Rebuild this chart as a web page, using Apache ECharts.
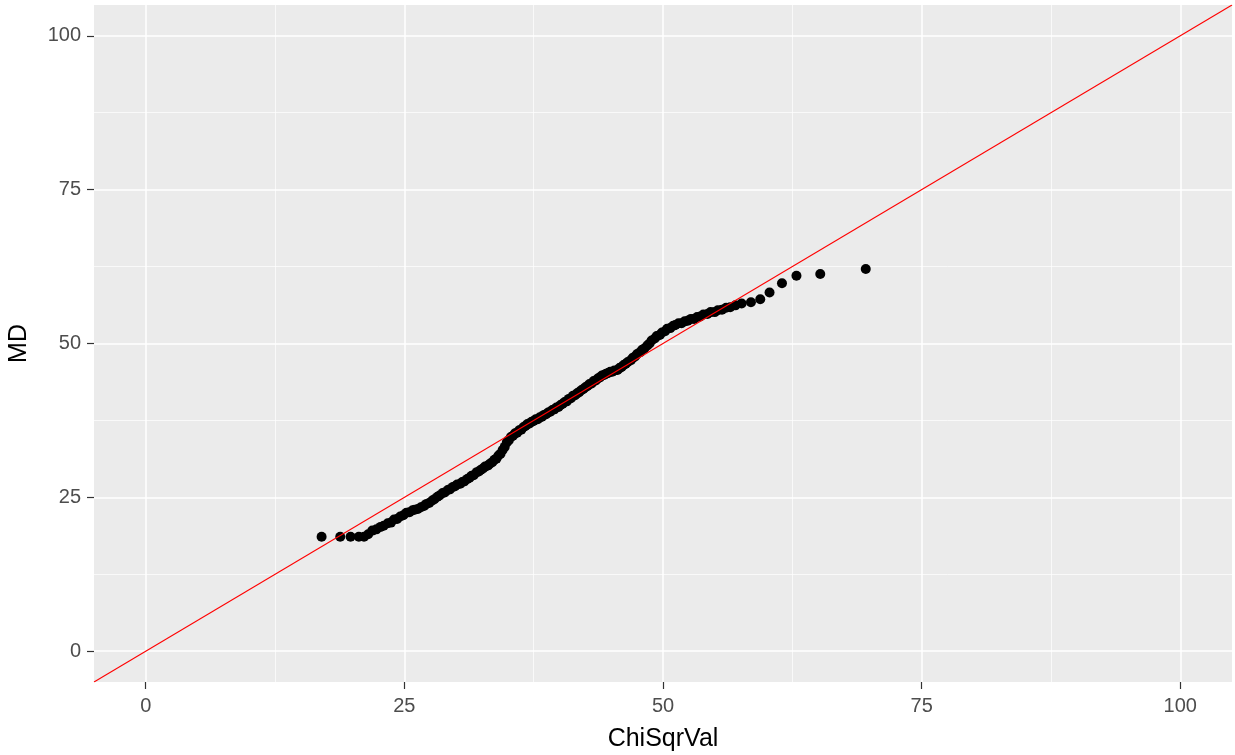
<!DOCTYPE html>
<html>
<head>
<meta charset="utf-8">
<title>ChiSqrVal vs MD</title>
<script src="https://cdn.jsdelivr.net/npm/echarts@6/dist/echarts.min.js"></script>
<style>
  html, body { margin: 0; padding: 0; background: #ffffff; }
  #chart { width: 1235px; height: 755px; }
</style>
</head>
<body>
<div id="chart"></div>
<script>
// Theoretical chi-square quantiles (x) and sorted Mahalanobis distances (y)
const chiSqVal = [
  17.0, 18.8, 19.8, 20.6, 21.1, 21.5, 21.9, 22.3, 22.7, 23.0, 23.4, 23.7, 24.0, 24.3, 24.6, 24.9,
  25.2, 25.5, 25.8, 26.0, 26.3, 26.6, 26.9, 27.1, 27.4, 27.7, 27.9, 28.2, 28.4, 28.7, 28.9, 29.2,
  29.4, 29.7, 29.9, 30.1, 30.4, 30.6, 30.8, 31.1, 31.3, 31.5, 31.7, 32.0, 32.2, 32.4, 32.6, 32.8,
  33.1, 33.3, 33.5, 33.7, 33.9, 34.1, 34.3, 34.5, 34.7, 34.9, 35.1, 35.3, 35.5, 35.7, 35.9, 36.1,
  36.3, 36.5, 36.7, 36.9, 37.1, 37.3, 37.5, 37.7, 37.9, 38.1, 38.3, 38.5, 38.7, 38.9, 39.1, 39.3,
  39.5, 39.7, 39.9, 40.1, 40.3, 40.5, 40.7, 40.9, 41.1, 41.3, 41.5, 41.7, 41.9, 42.1, 42.3, 42.5,
  42.7, 42.9, 43.1, 43.3, 43.5, 43.7, 43.9, 44.1, 44.3, 44.5, 44.7, 44.9, 45.1, 45.3, 45.6, 45.8,
  46.0, 46.2, 46.4, 46.6, 46.9, 47.1, 47.3, 47.5, 47.8, 48.0, 48.2, 48.5, 48.7, 48.9, 49.2, 49.4,
  49.7, 49.9, 50.2, 50.4, 50.7, 51.0, 51.2, 51.5, 51.8, 52.1, 52.4, 52.7, 53.0, 53.3, 53.6, 53.9,
  54.3, 54.6, 55.0, 55.3, 55.7, 56.1, 56.5, 57.0, 57.6, 58.5, 59.4, 60.3, 61.5, 62.9, 65.2, 69.6
];
const md = [
  18.6, 18.6, 18.6, 18.6, 18.6, 19.0, 19.6, 19.8, 20.2, 20.4, 20.8, 20.9, 21.4, 21.5, 21.9, 22.1,
  22.5, 22.6, 22.9, 23.0, 23.1, 23.4, 23.6, 23.9, 24.1, 24.5, 24.7, 25.1, 25.3, 25.7, 25.8, 26.2,
  26.3, 26.7, 26.8, 27.1, 27.2, 27.5, 27.6, 28.0, 28.2, 28.5, 28.6, 29.1, 29.2, 29.5, 29.7, 30.0,
  30.2, 30.5, 30.7, 31.1, 31.3, 31.8, 32.1, 32.7, 33.2, 33.9, 34.3, 34.8, 35.0, 35.4, 35.5, 35.9,
  36.0, 36.4, 36.6, 36.9, 37.0, 37.3, 37.4, 37.7, 37.7, 38.0, 38.1, 38.4, 38.5, 38.8, 38.9, 39.2,
  39.3, 39.6, 39.7, 40.0, 40.2, 40.5, 40.6, 41.0, 41.1, 41.5, 41.6, 41.9, 42.1, 42.4, 42.6, 42.9,
  43.1, 43.4, 43.5, 43.9, 44.0, 44.3, 44.5, 44.8, 44.9, 45.1, 45.2, 45.4, 45.4, 45.6, 45.7, 46.0,
  46.2, 46.5, 46.7, 47.0, 47.3, 47.7, 47.9, 48.3, 48.6, 49.0, 49.2, 49.7, 50.0, 50.5, 50.8, 51.2,
  51.4, 51.8, 52.0, 52.4, 52.5, 52.9, 53.0, 53.3, 53.3, 53.6, 53.7, 54.0, 54.0, 54.3, 54.4, 54.7,
  54.8, 55.1, 55.1, 55.4, 55.5, 55.8, 55.9, 56.2, 56.5, 56.7, 57.2, 58.3, 59.8, 61.0, 61.3, 62.1
];

// Reference line y = x, drawn across the whole panel
const refLine = [[-5, -5], [105, 105]];

// Axis ticks
const majorTicks = [0, 25, 50, 75, 100];
const minorTicks = [12.5, 37.5, 62.5, 87.5];
const axisMin = -5;
const axisMax = 105;

const points = chiSqVal.map((x, i) => [x, md[i]]);

const chart = echarts.init(document.getElementById('chart'), null, { renderer: 'canvas' });

// White panel grid lines (minor thin, major thicker)
const gridLines = [];
minorTicks.forEach(v => {
  gridLines.push({ xAxis: v, lineStyle: { color: '#ffffff', width: 0.7, type: 'solid' } });
  gridLines.push({ yAxis: v, lineStyle: { color: '#ffffff', width: 0.7, type: 'solid' } });
});
majorTicks.forEach(v => {
  gridLines.push({ xAxis: v, lineStyle: { color: '#ffffff', width: 1.5, type: 'solid' } });
  gridLines.push({ yAxis: v, lineStyle: { color: '#ffffff', width: 1.5, type: 'solid' } });
});

const font = '"Liberation Sans", Arial, sans-serif';

const axisCommon = {
  type: 'value', min: axisMin, max: axisMax,
  nameLocation: 'middle',
  nameTextStyle: { color: '#000000', fontSize: 25, fontFamily: font },
  axisLine: { show: true, onZero: false, lineStyle: { color: 'rgba(0,0,0,0)', width: 0 } },
  axisTick: { show: true, inside: false, customValues: majorTicks, length: 7, lineStyle: { color: '#333333', width: 1.2 } },
  axisLabel: { show: true, customValues: majorTicks, color: '#4D4D4D', fontSize: 20, fontFamily: font },
  splitLine: { show: false }
};

chart.setOption({
  animation: false,
  backgroundColor: '#ffffff',
  grid: {
    left: 94, right: 3, top: 5, bottom: 73,
    containLabel: false, outerBoundsMode: 'none',
    show: true, backgroundColor: '#EBEBEB', borderWidth: 0
  },
  xAxis: Object.assign({}, axisCommon, {
    name: 'ChiSqrVal', nameGap: 45,
    axisLabel: Object.assign({}, axisCommon.axisLabel, { margin: 14 })
  }),
  yAxis: Object.assign({}, axisCommon, {
    name: 'MD', nameGap: 62, nameRotate: 90,
    axisLabel: Object.assign({}, axisCommon.axisLabel, { margin: 13 })
  }),
  series: [
    {
      type: 'line', data: [], silent: true, z: 1,
      markLine: { silent: true, z: 1, symbol: 'none', label: { show: false }, animation: false, data: gridLines }
    },
    {
      type: 'scatter', data: points, symbol: 'circle', symbolSize: 10,
      itemStyle: { color: '#000000', opacity: 1 }, z: 3, silent: true
    },
    {
      type: 'line', data: refLine, symbol: 'none', clip: true, z: 4, silent: true,
      lineStyle: { color: '#FF0000', width: 1.1 }
    }
  ]
});
</script>
</body>
</html>
